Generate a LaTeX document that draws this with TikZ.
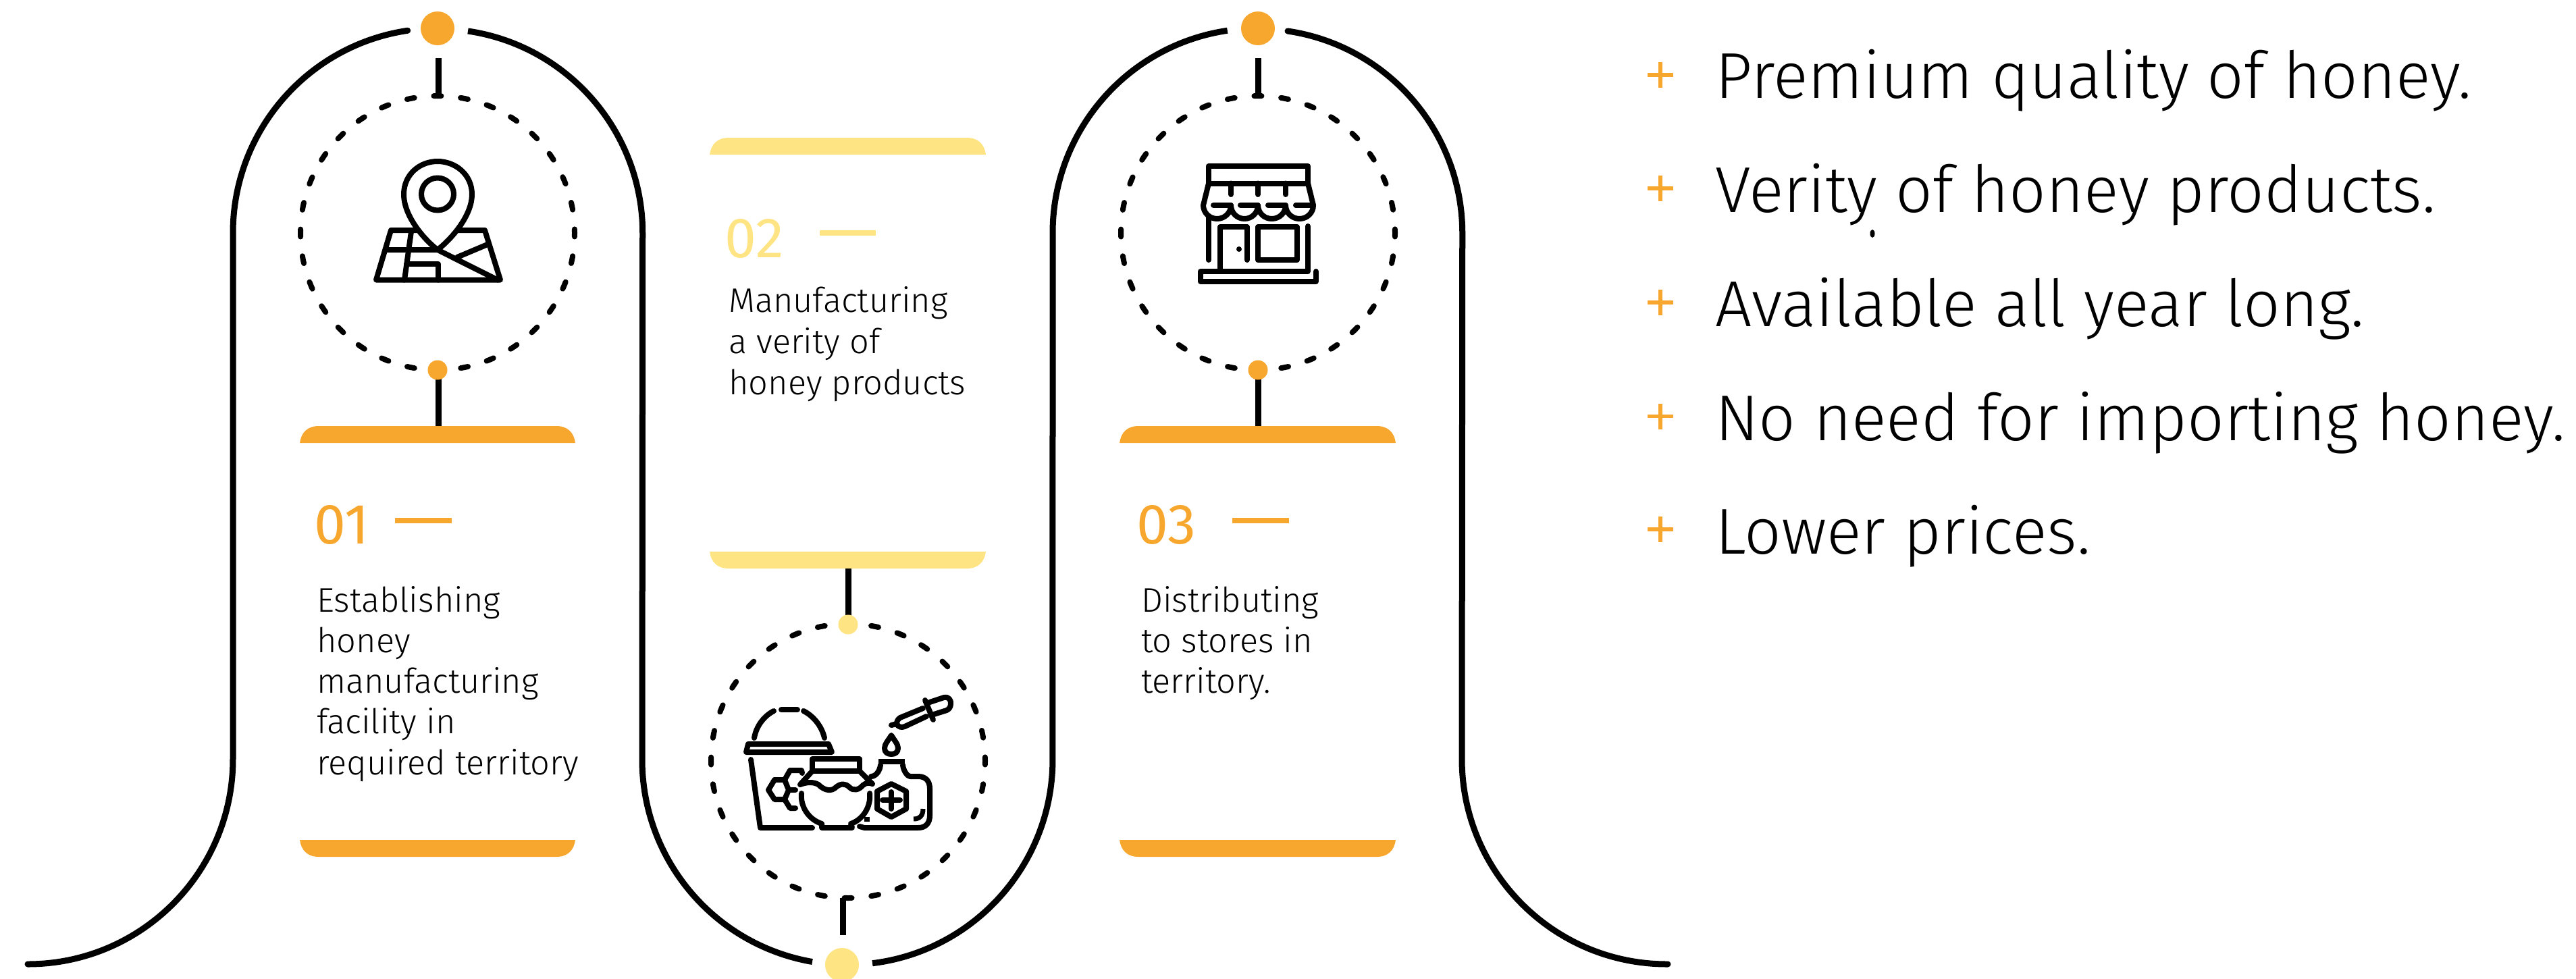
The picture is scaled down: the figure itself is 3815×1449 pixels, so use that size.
\documentclass[tikz,border=0pt]{standalone}
\usepackage{fontspec}
\setmainfont{Fira Sans}[UprightFont=* Light]
\newfontfamily\firareg{Fira Sans}
\definecolor{honeyO}{HTML}{F7A72E}
\definecolor{honeyY}{HTML}{FFE483}
\newcommand{\topbar}[4]{\fill[#4] (#1,#3+25) .. controls (#1+2,#3+10) and (#1+11,#3) .. (#1+28,#3) -- (#2-28,#3) .. controls (#2-11,#3) and (#2-2,#3+10) .. (#2,#3+25) -- cycle;}
\newcommand{\botbar}[4]{\fill[#4] (#1,#3) .. controls (#1+2,#3+15) and (#1+11,#3+25) .. (#1+28,#3+25) -- (#2-28,#3+25) .. controls (#2-11,#3+25) and (#2-2,#3+15) .. (#2,#3) -- cycle;}
\newcommand{\tsize}[1]{\fontsize{#1}{#1}\selectfont}
\tikzset{
  outer/.style={line width=9pt},
  conn/.style={line width=9pt},
  ring/.style={line width=8pt,line cap=round,dash pattern=on 11pt off 28.86pt,dash phase=5.5pt},
  ic/.style={line width=8pt,line cap=round,line join=round},
  dotO/.style={circle,fill=honeyO,inner sep=0pt,minimum size=#1},
  dotY/.style={circle,fill=honeyY,inner sep=0pt,minimum size=#1},
  num/.style={anchor=base west,inner sep=0pt,text=honeyO,font=\firareg\tsize{84}},
  numY/.style={anchor=base west,inner sep=0pt,text=honeyY,font=\firareg\tsize{84}},
  body/.style={anchor=base west,inner sep=0pt,text=black,font=\tsize{50.5}},
  item/.style={anchor=base west,inner sep=0pt,text=black,font=\tsize{96}},
  plusmark/.style={line width=5.5pt,honeyO},
}
\begin{document}
\begin{tikzpicture}[x=1pt,y=-1pt]
\useasboundingbox (0,0) rectangle (3815,1449);
% outer ribbon
\draw[outer,line cap=round] (41,1428) arc[start angle=90,end angle=0,radius=304] -- (345,345) arc[start angle=180,end angle=261.6,radius=303];
\draw[outer] (693,46) arc[start angle=278.4,end angle=360,radius=303] -- (951,1125) arc[start angle=180,end angle=99.85,radius=304];
\draw[outer] (1292,1426.7) arc[start angle=83,end angle=0,radius=304] -- (1559,345) arc[start angle=180,end angle=261.6,radius=303];
\draw[outer,line cap=round] (1907,46) arc[start angle=278.4,end angle=360,radius=303] -- (2165,1124) arc[start angle=180,end angle=90,radius=304] -- (2470,1428);
% dashed rings
\draw[ring] (648,345) circle[radius=203];
\draw[ring] (1256,1127) circle[radius=203];
\draw[ring] (1863,345) circle[radius=203];
% bars
\topbar{444}{852}{631}{honeyO}
\botbar{444}{852}{1244}{honeyO}
\topbar{1051}{1460}{204}{honeyY}
\botbar{1051}{1460}{817}{honeyY}
\topbar{1658}{2067}{631}{honeyO}
\botbar{1658}{2067}{1244}{honeyO}
% connector ends
\coordinate (a1) at (649,86); \coordinate (a2) at (649,142);
\coordinate (a3) at (649,631);
\coordinate (b1) at (1256,842);
\coordinate (b2) at (1248,1385); \coordinate (b3) at (1248,1330);
\coordinate (c1) at (1863,86); \coordinate (c2) at (1863,142);
\coordinate (c3) at (1863,631);
\coordinate (d1bc) at (649,548);
\coordinate (d2tc) at (1256,925);
\coordinate (d3bc) at (1863,548);
% connectors
\draw[conn] (a1) -- (a2);
\draw[conn] (d1bc) -- (a3);
\draw[conn] (b1) -- (d2tc);
\draw[conn] (b2) -- (b3);
\draw[conn] (c1) -- (c2);
\draw[conn] (d3bc) -- (c3);
% dots
\node[dotO=50pt] (d1t) at (648,42) {};
\node[dotO=29pt] (d1b) at (648,548) {};
\node[dotY=50pt] (d2b) at (1247,1429) {};
\node[dotY=29pt] (d2t) at (1256,925) {};
\node[dotO=50pt] (d3t) at (1863,42) {};
\node[dotO=29pt] (d3b) at (1863,548) {};
% column 1 text
\node[num] (n1) at (465,805) {01};
\draw[line width=8.5pt,honeyO] (585,771) -- (669,771);
\node[body] (t1a) at (469,906) {Establishing};
\node[body] (t1b) at (469,966) {honey};
\node[body] (t1c) at (469,1026) {manufacturing};
\node[body] (t1d) at (469,1086) {facility in};
\node[body] (t1e) at (469,1147) {required territory};
% column 2 text
\node[numY] (n2) at (1073,381) {02};
\draw[line width=8.5pt,honeyY] (1214,345) -- (1297,345);
\node[body] (t2a) at (1079,462) {Manufacturing};
\node[body] (t2b) at (1079,523) {a verity of};
\node[body] (t2c) at (1079,584) {honey products};
% column 3 text
\node[num] (n3) at (1683,805) {03};
\draw[line width=8.5pt,honeyO] (1825,771) -- (1909,771);
\node[body] (t3a) at (1690,906) {Distributing};
\node[body] (t3b) at (1690,966) {to stores in};
\node[body] (t3c) at (1690,1026) {territory.};
% list
\foreach \yy/\bb/\txt in {111/145/{Premium quality of honey.},279/314/{Verity of honey products.},448/483/{Available all year long.},616.5/652/{No need for importing honey.},784/820/{Lower prices.}}{
  \draw[plusmark] (2440,\yy) -- (2478,\yy) (2459,\yy-19) -- (2459,\yy+19);
  \node[item] at (2540,\bb) {\txt};
}
\fill (2773,346) ellipse[x radius=3.5,y radius=6];
% map icon
\draw[ic] (648,370) .. controls (625,352) and (598,318) .. (598,288) .. controls (598,258) and (622,239) .. (648,239) .. controls (674,239) and (699,258) .. (699,288) .. controls (699,318) and (671,352) .. (648,370);
\draw[ic] (648,287.5) circle[radius=24];
\draw[ic] (617,341) -- (579,341) -- (557,414.6) -- (741,414.6) -- (718,341) -- (679,341);
\draw[ic] (609,343) -- (599,414.6);
\draw[ic] (571,370) -- (648,370) -- (737,414.6);
\draw[ic] (677,381) -- (722,362);
\draw[ic] (602,391) -- (649,391) -- (649,414.6);
% store icon
\draw[ic] (1790,246) rectangle (1937,271.5);
\draw[ic] (1790,271.5) -- (1782,304) arc[start angle=180,end angle=0,x radius=20.5,y radius=20] arc[start angle=180,end angle=0,x radius=20,y radius=20] arc[start angle=180,end angle=0,x radius=20.5,y radius=20] arc[start angle=180,end angle=0,x radius=20.5,y radius=20] -- (1937,271.5);
\draw[ic] (1797,304) -- (1823,304) (1837,304) -- (1863,304) (1878,304) -- (1904,304) (1919,304) -- (1945,304);
\draw[ic] (1823,271.5) -- (1823,288) (1863,271.5) -- (1863,288) (1904,271.5) -- (1904,288);
\draw[ic] (1790,320) -- (1790,385);
\draw[ic] (1937,335) -- (1937,402) -- (1807,402);
\draw[ic] (1807,402) -- (1807,336) -- (1847,336) -- (1847,385);
\fill (1835,369) circle[radius=4];
\draw[ic] (1863,336) rectangle (1921,385);
\draw[ic] (1807,402) -- (1778,402) -- (1778,417) -- (1949,417) -- (1949,402);
% honey icon
\draw[ic] (1117,1093) .. controls (1120,1075) and (1132,1060) .. (1146,1053);
\draw[ic] (1157,1051) -- (1181,1051);
\draw[ic] (1190,1053) .. controls (1204,1060) and (1217,1075) .. (1221,1093);
\draw[ic] (1108,1102) -- (1227,1102) -- (1232,1114) -- (1105,1114) -- cycle;
\draw[ic] (1112,1125) -- (1126,1226) -- (1203,1226);
\draw[ic] (1138,1170) -- (1147,1155) -- (1162,1155) -- (1168,1170) -- (1162,1184) -- (1147,1184) -- cycle;
\draw[ic] (1162,1155) -- (1170,1141) -- (1187,1141) -- (1188,1145);
\draw[ic] (1168,1170) -- (1178,1170);
\draw[ic] (1162,1184) -- (1170,1197) -- (1178,1197);
\draw[ic] (1203,1142) -- (1203,1124) -- (1273,1124) -- (1273,1142) -- cycle;
\draw[ic] (1203,1142) -- (1185,1162) .. controls (1195,1158) and (1205,1158) .. (1212,1162) .. controls (1222,1172) and (1232,1172) .. (1238,1166) .. controls (1245,1160) and (1252,1160) .. (1258,1166) .. controls (1264,1172) and (1272,1170) .. (1278,1163) .. controls (1283,1158) and (1290,1160) .. (1292,1161) -- (1273,1142);
\draw[ic] (1187,1175) .. controls (1185,1195) and (1198,1214) .. (1217,1220) -- (1217,1226) -- (1262,1226) -- (1260,1220) .. controls (1278,1214) and (1290,1195) .. (1288,1175);
\draw[line width=8pt] (1301,1128) -- (1340,1128);
\draw[ic] (1304,1133) .. controls (1303,1142) and (1297,1150) .. (1290,1150);
\draw[ic] (1337,1133) .. controls (1338,1142) and (1344,1150) .. (1348,1150) -- (1360,1150) .. controls (1371,1150) and (1377,1157) .. (1377,1168) -- (1377,1208) .. controls (1377,1219) and (1371,1226) .. (1360,1226) -- (1280,1226) -- (1273,1224);
\draw[ic] (1320,1161) -- (1342,1172) -- (1342,1198) -- (1320,1210) -- (1299,1198) -- (1299,1172) -- cycle;
\draw[ic] (1320,1173) -- (1320,1198) (1307,1185) -- (1333,1185);
\draw[line width=7pt] (1367,1198) .. controls (1367,1208) and (1362,1213) .. (1353,1213);
\draw[line width=7pt] (1280,1213) -- (1288,1213);
\draw[ic] (1320,1089) .. controls (1316,1096) and (1310,1102) .. (1310,1108) .. controls (1310,1114) and (1314,1117) .. (1320,1117) .. controls (1326,1117) and (1330,1114) .. (1330,1108) .. controls (1330,1102) and (1324,1096) .. (1320,1089) -- cycle;
\draw[ic] (1320,1074) -- (1328,1072) .. controls (1328,1068) and (1330,1065) .. (1333,1063) -- (1367,1049);
\draw[ic] (1328,1072) .. controls (1330,1077) and (1335,1078) .. (1340,1076) -- (1372,1061);
\draw[ic] (1370,1037) -- (1382,1066);
\draw[ic] (1377,1040) -- (1398,1033) .. controls (1404,1031) and (1409,1037) .. (1408,1042) .. controls (1408,1047) and (1406,1050) .. (1402,1052) -- (1383,1058);
\end{tikzpicture}
\end{document}
